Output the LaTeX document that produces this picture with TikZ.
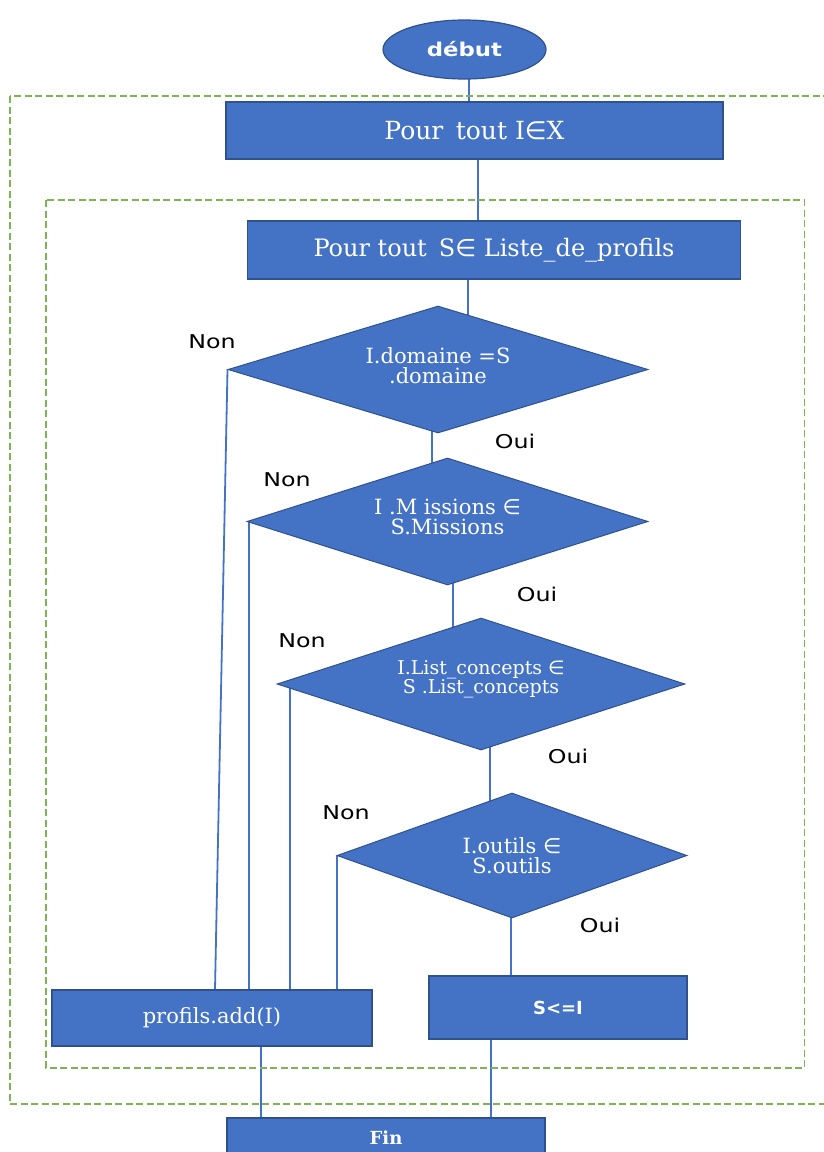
\documentclass[tikz,border=0pt]{standalone}
\usepackage{fontspec}
\setmainfont{DejaVu Serif}
\newfontfamily\lblfont[FakeStretch=1.25]{DejaVu Sans}
\newfontfamily\lblboldfont[FakeStretch=1.2]{DejaVu Sans Bold}
\newfontfamily\symfont{DejaVu Sans}
\newfontfamily\symboldfont{DejaVu Sans Bold}
\usetikzlibrary{shapes.geometric}
\pgfdeclarelayer{bg}
\pgfsetlayers{bg,main}
\definecolor{fillblue}{HTML}{4472C4}
\definecolor{edgeblue}{HTML}{2F528F}
\definecolor{loopgreen}{HTML}{7EB356}
\newcommand{\elem}{{\symfont ∈}}
\tikzset{
  box/.style={draw=edgeblue, fill=fillblue, line width=1.2pt, text=white, inner sep=0pt},
  decision/.style={diamond, draw=edgeblue, fill=fillblue, line width=1pt, inner sep=0pt},
  dtext/.style={text=white, align=center, font=\fontsize{21}{20}\selectfont},
  link/.style={draw=fillblue, line width=1.8pt},
  loopframe/.style={draw=loopgreen, line width=1.8pt, dash pattern=on 7pt off 3.5pt},
  answer/.style={text=black, font=\lblfont\fontsize{19}{21}\selectfont, inner sep=0pt}
}
\begin{document}
\begin{tikzpicture}[x=1pt, y=-1pt]
\useasboundingbox (0,0) rectangle (823,1152);

% nested loop frames
\draw[loopframe] (10,96) rectangle (840,1104);
\draw[loopframe] (46,200) rectangle (804.5,1068);

% start and loop headers
\node[ellipse, box, minimum width=163pt, minimum height=59pt, font=\lblboldfont\fontsize{19}{21}\selectfont] (start) at (464.5,49.5) {début};
\node[box, minimum width=497pt, minimum height=57pt, font=\fontsize{25}{27}\selectfont] (b1) at (474.5,130.5) {Pour\enspace tout I\elem X};
\node[box, minimum width=493pt, minimum height=58pt, font=\fontsize{24}{26}\selectfont] (b2) at (494,250) {Pour tout\enspace S\elem{} Liste\_de\_profils};

% tests
\node[decision, minimum width=420pt, minimum height=127pt] (d1) at (438,369.5) {};
\node[decision, minimum width=401pt, minimum height=127pt] (d2) at (447.5,521.5) {};
\node[decision, minimum width=408pt, minimum height=132pt] (d3) at (481,684) {};
\node[decision, minimum width=350pt, minimum height=125pt] (d4) at (512,855.5) {};
\node[dtext, yshift=4pt] (d1t) at (d1.center) {I.domaine =S\\.domaine};
\node[dtext, yshift=5pt] (d2t) at (d2.center) {I .M issions \elem\\S.Missions};
\node[dtext, yshift=5pt, font=\fontsize{19}{19}\selectfont] (d3t) at (d3.center) {I.List\_concepts \elem\\S .List\_concepts};
\node[dtext, yshift=0pt] (d4t) at (d4.center) {I.outils \elem\\S.outils};

% actions
\node[box, minimum width=320pt, minimum height=56pt, font=\fontsize{21}{23}\selectfont] (padd) at (212,1018) {profils.add(I)};
\node[box, minimum width=258pt, minimum height=63pt, font=\symboldfont\fontsize{18}{20}\selectfont] (sset) at (558,1007.5) {S<=I};
\node[box, minimum width=318pt, minimum height=40pt, font=\bfseries\fontsize{18}{20}\selectfont] (fin) at (386,1138) {Fin};

% answer labels
\node[answer] (non1) at (212,342) {Non};
\node[answer] (oui1) at (515,441) {Oui};
\node[answer] (non2) at (287,480) {Non};
\node[answer] (oui2) at (537,594) {Oui};
\node[answer] (non3) at (302,641) {Non};
\node[answer] (oui3) at (568,756) {Oui};
\node[answer] (non4) at (346,813) {Non};
\node[answer] (oui4) at (600,925) {Oui};

% connector columns
\coordinate (c0) at (469,0);
\coordinate (c1) at (478,0);
\coordinate (c2) at (468,0);
\coordinate (c3) at (432,0);
\coordinate (c4) at (453,0);
\coordinate (c5) at (490,0);
\coordinate (c6) at (511,0);
\coordinate (n1) at (215,0);
\coordinate (n2) at (249,0);
\coordinate (n3) at (290,0);
\coordinate (n4) at (337,0);
\coordinate (e1) at (261,0);
\coordinate (e2) at (491,0);

\begin{pgfonlayer}{bg}
\draw[link] (start.center -| c0) -- (b1.north -| c0);
\draw[link] (b1.south -| c1) -- (b2.north -| c1);
\draw[link] (b2.south -| c2) -- (d1.center -| c2);
\draw[link] (d1.center -| c3) -- (d2.center -| c3);
\draw[link] (d2.center -| c4) -- (d3.center -| c4);
\draw[link] (d3.center -| c5) -- (d4.center -| c5);
\draw[link] (d4.center -| c6) -- (sset.north -| c6);
\draw[link] (d1.west) -- (padd.north -| n1);
\draw[link] (d2.center -| n2) -- (padd.north -| n2);
\draw[link] (d3.center -| n3) -- (padd.north -| n3);
\draw[link] (d4.center -| n4) -- (padd.north -| n4);
\draw[link] (padd.south -| e1) -- (fin.north -| e1);
\draw[link] (sset.south -| e2) -- (fin.north -| e2);
\end{pgfonlayer}
\end{tikzpicture}
\end{document}
